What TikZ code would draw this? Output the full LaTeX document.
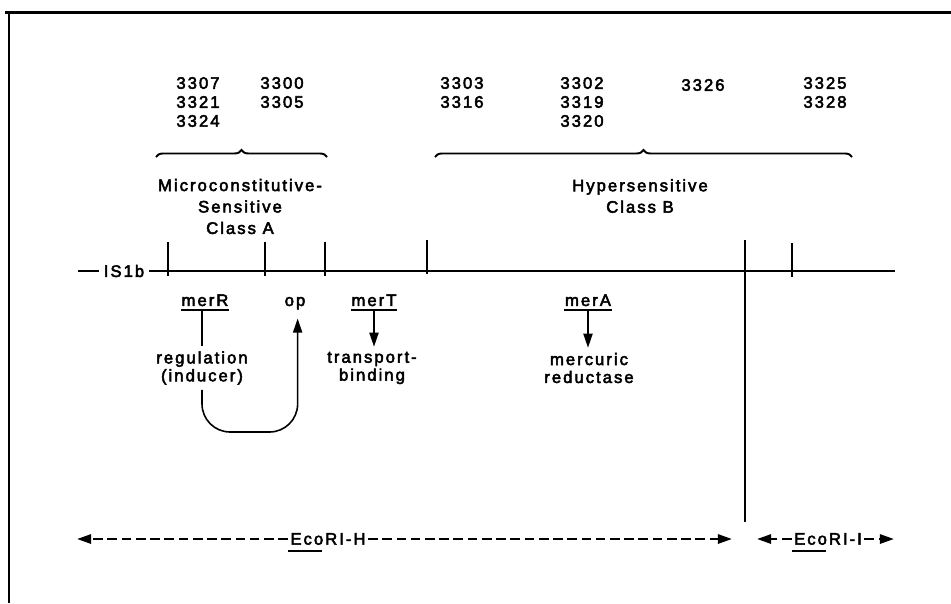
\documentclass[tikz,border=0pt]{standalone}
\usepackage{fontspec}
\newfontfamily\merfont{Liberation Sans}[LetterSpace=12,FakeBold=3]
\usetikzlibrary{arrows.meta,decorations.pathreplacing,positioning}

\begin{document}
\begin{tikzpicture}[
  x=0.02cm,y=-0.02cm,
  font=\merfont\fontsize{9.5}{10.8}\selectfont,
  line width=.9pt,
  lbl/.style={inner sep=0pt,align=center},
  cls/.style={lbl,font=\merfont\fontsize{9.5}{12.2}\selectfont},
  fn/.style={inner sep=2.5pt,align=center,font=\merfont\fontsize{9.5}{10.2}\selectfont},
  gene/.style={inner xsep=0pt,inner ysep=1.7pt,text height=6.8pt,text depth=0pt},
  rule/.style={line width=1.2pt},
  tip/.style={-{Triangle[length=8pt,width=5.2pt]}},
  span/.style={line width=1.4pt,dash pattern=on 5.5pt off 2.6pt},
  brc/.style={decorate,decoration={brace,amplitude=4pt},line width=1.1pt}
]
\useasboundingbox (0,0) rectangle (951,603);
\draw[line width=1.7pt] (5,12) -- (951,12);
\draw[line width=1.7pt] (9,11) -- (9,603);

% mutant numbers and classes
\node[lbl] (a1) at (198,102) {3307\\3321\\3324};
\node[lbl] (a2) at (282,92.5) {3300\\3305};
\node[lbl] (b1) at (462,92.5) {3303\\3316};
\node[lbl] (b2) at (582,102) {3302\\3319\\3320};
\node[lbl] (b3) at (703,85) {3326};
\node[lbl] (b4) at (825,92.5) {3325\\3328};
\draw[brc] (156,157) -- (327,157);
\draw[brc] (435,157) -- (852,157);
\node[cls] (clsA) at (240,206.5) {Microconstitutive-\\Sensitive\\Class A};
\node[cls] (clsB) at (640,196) {Hypersensitive\\Class B};

% map
\node[lbl,inner xsep=2.5pt] (is) at (124,271) {IS1b};
\coordinate (mapL) at (78,271);
\coordinate (mapR) at (895,271);
\draw[rule] (mapL) -- (is.west);
\draw[rule] (is.east) -- (mapR);
\foreach \x/\t/\b in {168/242/276,265/242/276,325/242/276,427/240/274,792/243/277}
  \draw[rule] (\x,\t) -- (\x,\b);
\draw[rule] (745,240) -- (745,522);

% genes
\node[gene] (merR) at (205,300) {merR};
\node[gene] (op) at (295,300) {op};
\node[gene] (merT) at (374,300) {merT};
\node[gene] (merA) at (588,300) {merA};
\foreach \g in {merR,merT,merA}
  \draw (\g.south west) -- (\g.south east);
\node[fn] (reg) at (202,368) {regulation\\(inducer)};
\node[fn] (trans) at (372,368) {transport-\\binding};
\node[fn] (redu) at (589,368) {mercuric\\reductase};
\draw (reg.north |- merR.south) -- (reg.north);
\draw[tip] (merT.south) -- (merT.south |- trans.north);
\draw[tip] (merA.south) -- (merA.south |- redu.north);
\coordinate (loop) at (250,432);
\draw[tip,rounded corners=16pt,shorten >=5pt]
  (reg.south) -- (reg.south |- loop) -- ([xshift=1.5pt]op.south |- loop) -- ([xshift=1.5pt]op.south);

% EcoRI fragments
\node[lbl,inner xsep=1pt] (ecoH) at (328,539) {EcoRI-H};
\node[lbl,inner xsep=1pt] (ecoI) at (828,539) {EcoRI-I};
\coordinate (hL) at (77,539);
\coordinate (hR) at (732,539);
\coordinate (iL) at (757,539);
\coordinate (iR) at (894,539);
\draw[span,tip] (ecoH.west) -- (hL);
\draw[span,tip] (ecoH.east) -- (hR);
\draw[span,tip] (ecoI.west) -- (iL);
\draw[span,tip] (ecoI.east) -- (iR);
\draw ([yshift=-3.5pt]ecoH.base west) -- ++(34,0);
\draw ([yshift=-3.5pt]ecoI.base west) -- ++(34,0);
\end{tikzpicture}
\end{document}
